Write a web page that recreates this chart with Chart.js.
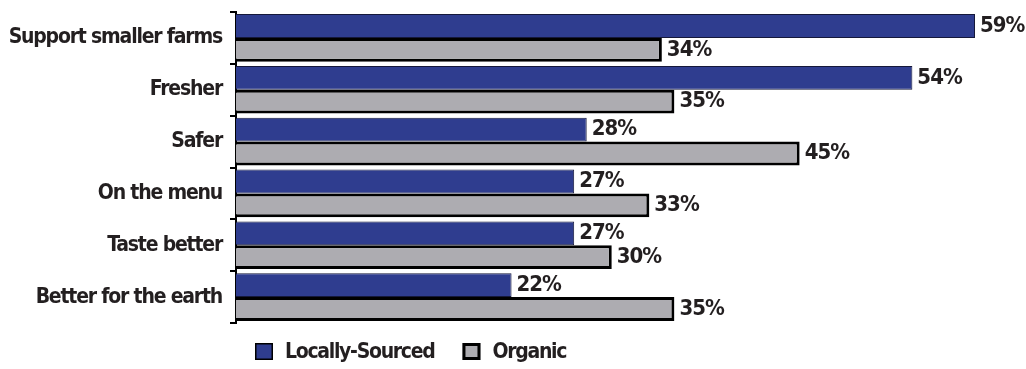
<!DOCTYPE html>
<html>
<head>
<meta charset="utf-8">
<script src="https://cdn.jsdelivr.net/npm/chart.js@4/dist/chart.umd.min.js"></script>
<style>
html,body{margin:0;padding:0;background:#fff;}
#wrap{width:1026px;height:369px;position:relative;}
</style>
</head>
<body>
<div id="wrap"><canvas id="c" width="1026" height="369"></canvas></div>
<script>
const categories = ["Support smaller farms","Fresher","Safer","On the menu","Taste better","Better for the earth"];
const locallySourced = [59,54,28,27,27,22];
const organic = [34,35,45,33,30,35];
const seriesNames = ["Locally-Sourced","Organic"];

const FONT = "'DejaVu Sans Condensed','Liberation Sans Narrow',sans-serif";
const TEXT = '#231f20';
const BLUE = '#2f3d8f';
const GRAY = '#adacb1';

const tightText = {
  id:'tightText',
  beforeDraw(chart){ chart.ctx.letterSpacing = '-1.2px'; }
};

const valueLabels = {
  id:'valueLabels',
  afterDatasetsDraw(chart){
    const ctx = chart.ctx;
    ctx.save();
    ctx.font = "bold 22px " + FONT;
    ctx.letterSpacing = '-1px';
    ctx.fillStyle = TEXT;
    ctx.textAlign = 'left';
    ctx.textBaseline = 'middle';
    chart.data.datasets.forEach((ds,i)=>{
      const meta = chart.getDatasetMeta(i);
      meta.data.forEach((bar,j)=>{
        ctx.fillText(ds.data[j] + '%', bar.x + 5, bar.y);
      });
    });
    ctx.restore();
  }
};

const customLegend = {
  id:'customLegend',
  afterDraw(chart){
    const ctx = chart.ctx;
    ctx.save();
    ctx.font = "bold 21px " + FONT;
    ctx.letterSpacing = '-1.3px';
    ctx.textBaseline = 'middle';
    ctx.textAlign = 'left';
    let x = 255;
    const y = 343, bw = 18, bh = 17;
    chart.data.datasets.forEach((ds,i)=>{
      ctx.fillStyle = ds.backgroundColor;
      ctx.fillRect(x, y, bw, bh);
      ctx.strokeStyle = '#000';
      ctx.lineWidth = ds.legendBorder;
      const h = ds.legendBorder/2;
      ctx.strokeRect(x+h, y+h, bw-2*h, bh-2*h);
      ctx.fillStyle = TEXT;
      ctx.fillText(ds.label, x + bw + 12, y + bh/2 + 1);
      x += bw + 12 + ctx.measureText(ds.label).width + 28;
    });
    ctx.restore();
  }
};

new Chart(document.getElementById('c'), {
  type:'bar',
  data:{
    labels:categories,
    datasets:[
      {label:seriesNames[0], data:locallySourced, backgroundColor:BLUE, borderColor:'#15183a', borderWidth:1, legendBorder:1.5},
      {label:seriesNames[1], data:organic, backgroundColor:GRAY, borderColor:'#000', borderWidth:3, legendBorder:3}
    ]
  },
  options:{
    indexAxis:'y',
    responsive:false,
    animation:false,
    devicePixelRatio:1,
    layout:{padding:{top:12,bottom:46,right:51,left:0}},
    datasets:{bar:{categoryPercentage:0.92,barPercentage:1.0,borderSkipped:'start'}},
    plugins:{legend:{display:false},tooltip:{enabled:false}},
    scales:{
      x:{display:false,min:0,max:59},
      y:{
        afterFit(s){ s.width = 236; s.paddingTop = 0; s.paddingBottom = 0; },
        grid:{display:true,drawOnChartArea:false,drawTicks:true,tickLength:6,color:'#000',lineWidth:2,offset:true},
        border:{display:true,color:'#000',width:2},
        ticks:{color:TEXT,padding:8,font:{family:FONT,weight:'bold',size:21}}
      }
    }
  },
  plugins:[tightText, valueLabels, customLegend]
});
</script>
</body>
</html>
